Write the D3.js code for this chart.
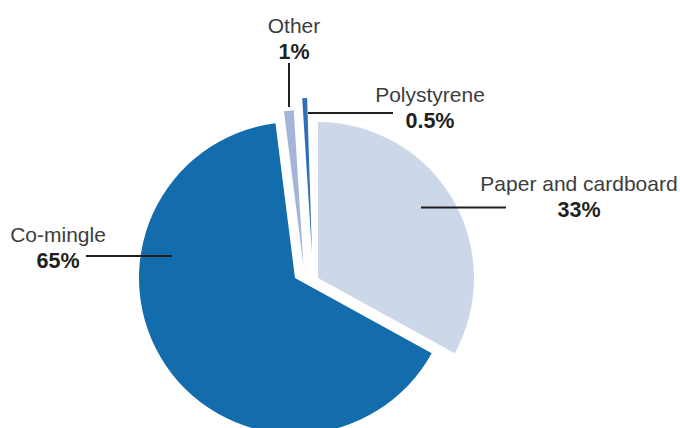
<!DOCTYPE html>
<html>
<head>
<meta charset="utf-8">
<script src="https://cdn.jsdelivr.net/npm/d3@7"></script>
<style>
  html, body { margin: 0; padding: 0; background: #fff; }
  svg { display: block; }
  text { font-family: "Liberation Sans", Arial, Helvetica, sans-serif; }
</style>
</head>
<body>
<div id="chart"></div>
<script>
// shares of waste collected, in per cent (as labelled, they add up to 99.5)
const categories = ["Paper and cardboard", "Co-mingle", "Other", "Polystyrene"];
const shares = [33, 65, 1, 0.5];

const colors = ["#ccd7ea", "#136dad", "#a3b5d9", "#2f6fb6"];

// each slice is pulled away from the centre by hand, not along its bisector
const explode = [[12, 6], [-11, 6], [-2.5, -6], [6, -18]];

// where the label text sits and where its leader line runs
const labelPos = [[579, 191], [58, 242], [294, 33], [430, 102]];
const leaders = [
    [[421, 207.5], [506, 207.5]],
    [[86, 256], [172, 256]],
    [[289, 63], [289, 107]],
    [[308, 113], [393, 113]]
];

const width = 680, height = 428;
const cx = 306, cy = 272, radius = 156;

const svg = d3.select("#chart").append("svg")
    .attr("width", width)
    .attr("height", height);

const data = categories.map((c, i) => ({ name: c, value: shares[i], i: i }));

// the rounded shares fall short of 100, so the pie stops short of a full turn
const pie = d3.pie()
    .sort(null)
    .value(d => d.value)
    .startAngle(0)
    .endAngle(2 * Math.PI * d3.sum(shares) / 100);

const arc = d3.arc()
    .innerRadius(0)
    .outerRadius(radius);

svg.append("g")
    .attr("class", "slices")
    .attr("transform", `translate(${cx},${cy})`)
    .selectAll("path")
    .data(pie(data))
    .enter().append("path")
    .attr("transform", d => `translate(${explode[d.data.i][0]},${explode[d.data.i][1]})`)
    .attr("d", arc)
    .attr("fill", d => colors[d.data.i]);

const line = d3.line();

svg.append("g")
    .attr("class", "leaders")
    .selectAll("path")
    .data(leaders)
    .enter().append("path")
    .attr("d", d => line(d))
    .attr("stroke", "#231f20")
    .attr("stroke-width", 2)
    .attr("fill", "none");

const labels = svg.append("g")
    .attr("class", "labels")
    .selectAll("text")
    .data(data)
    .enter().append("text")
    .attr("x", d => labelPos[d.i][0])
    .attr("y", d => labelPos[d.i][1])
    .attr("text-anchor", "middle")
    .style("font-size", "21px");

labels.append("tspan")
    .attr("fill", "#3d3d3d")
    .text(d => d.name);

labels.append("tspan")
    .attr("x", d => labelPos[d.i][0])
    .attr("dy", 26)
    .attr("fill", "#231f20")
    .style("font-weight", "bold")
    .style("font-size", "21.5px")
    .text(d => d.value + "%");
</script>
</body>
</html>
